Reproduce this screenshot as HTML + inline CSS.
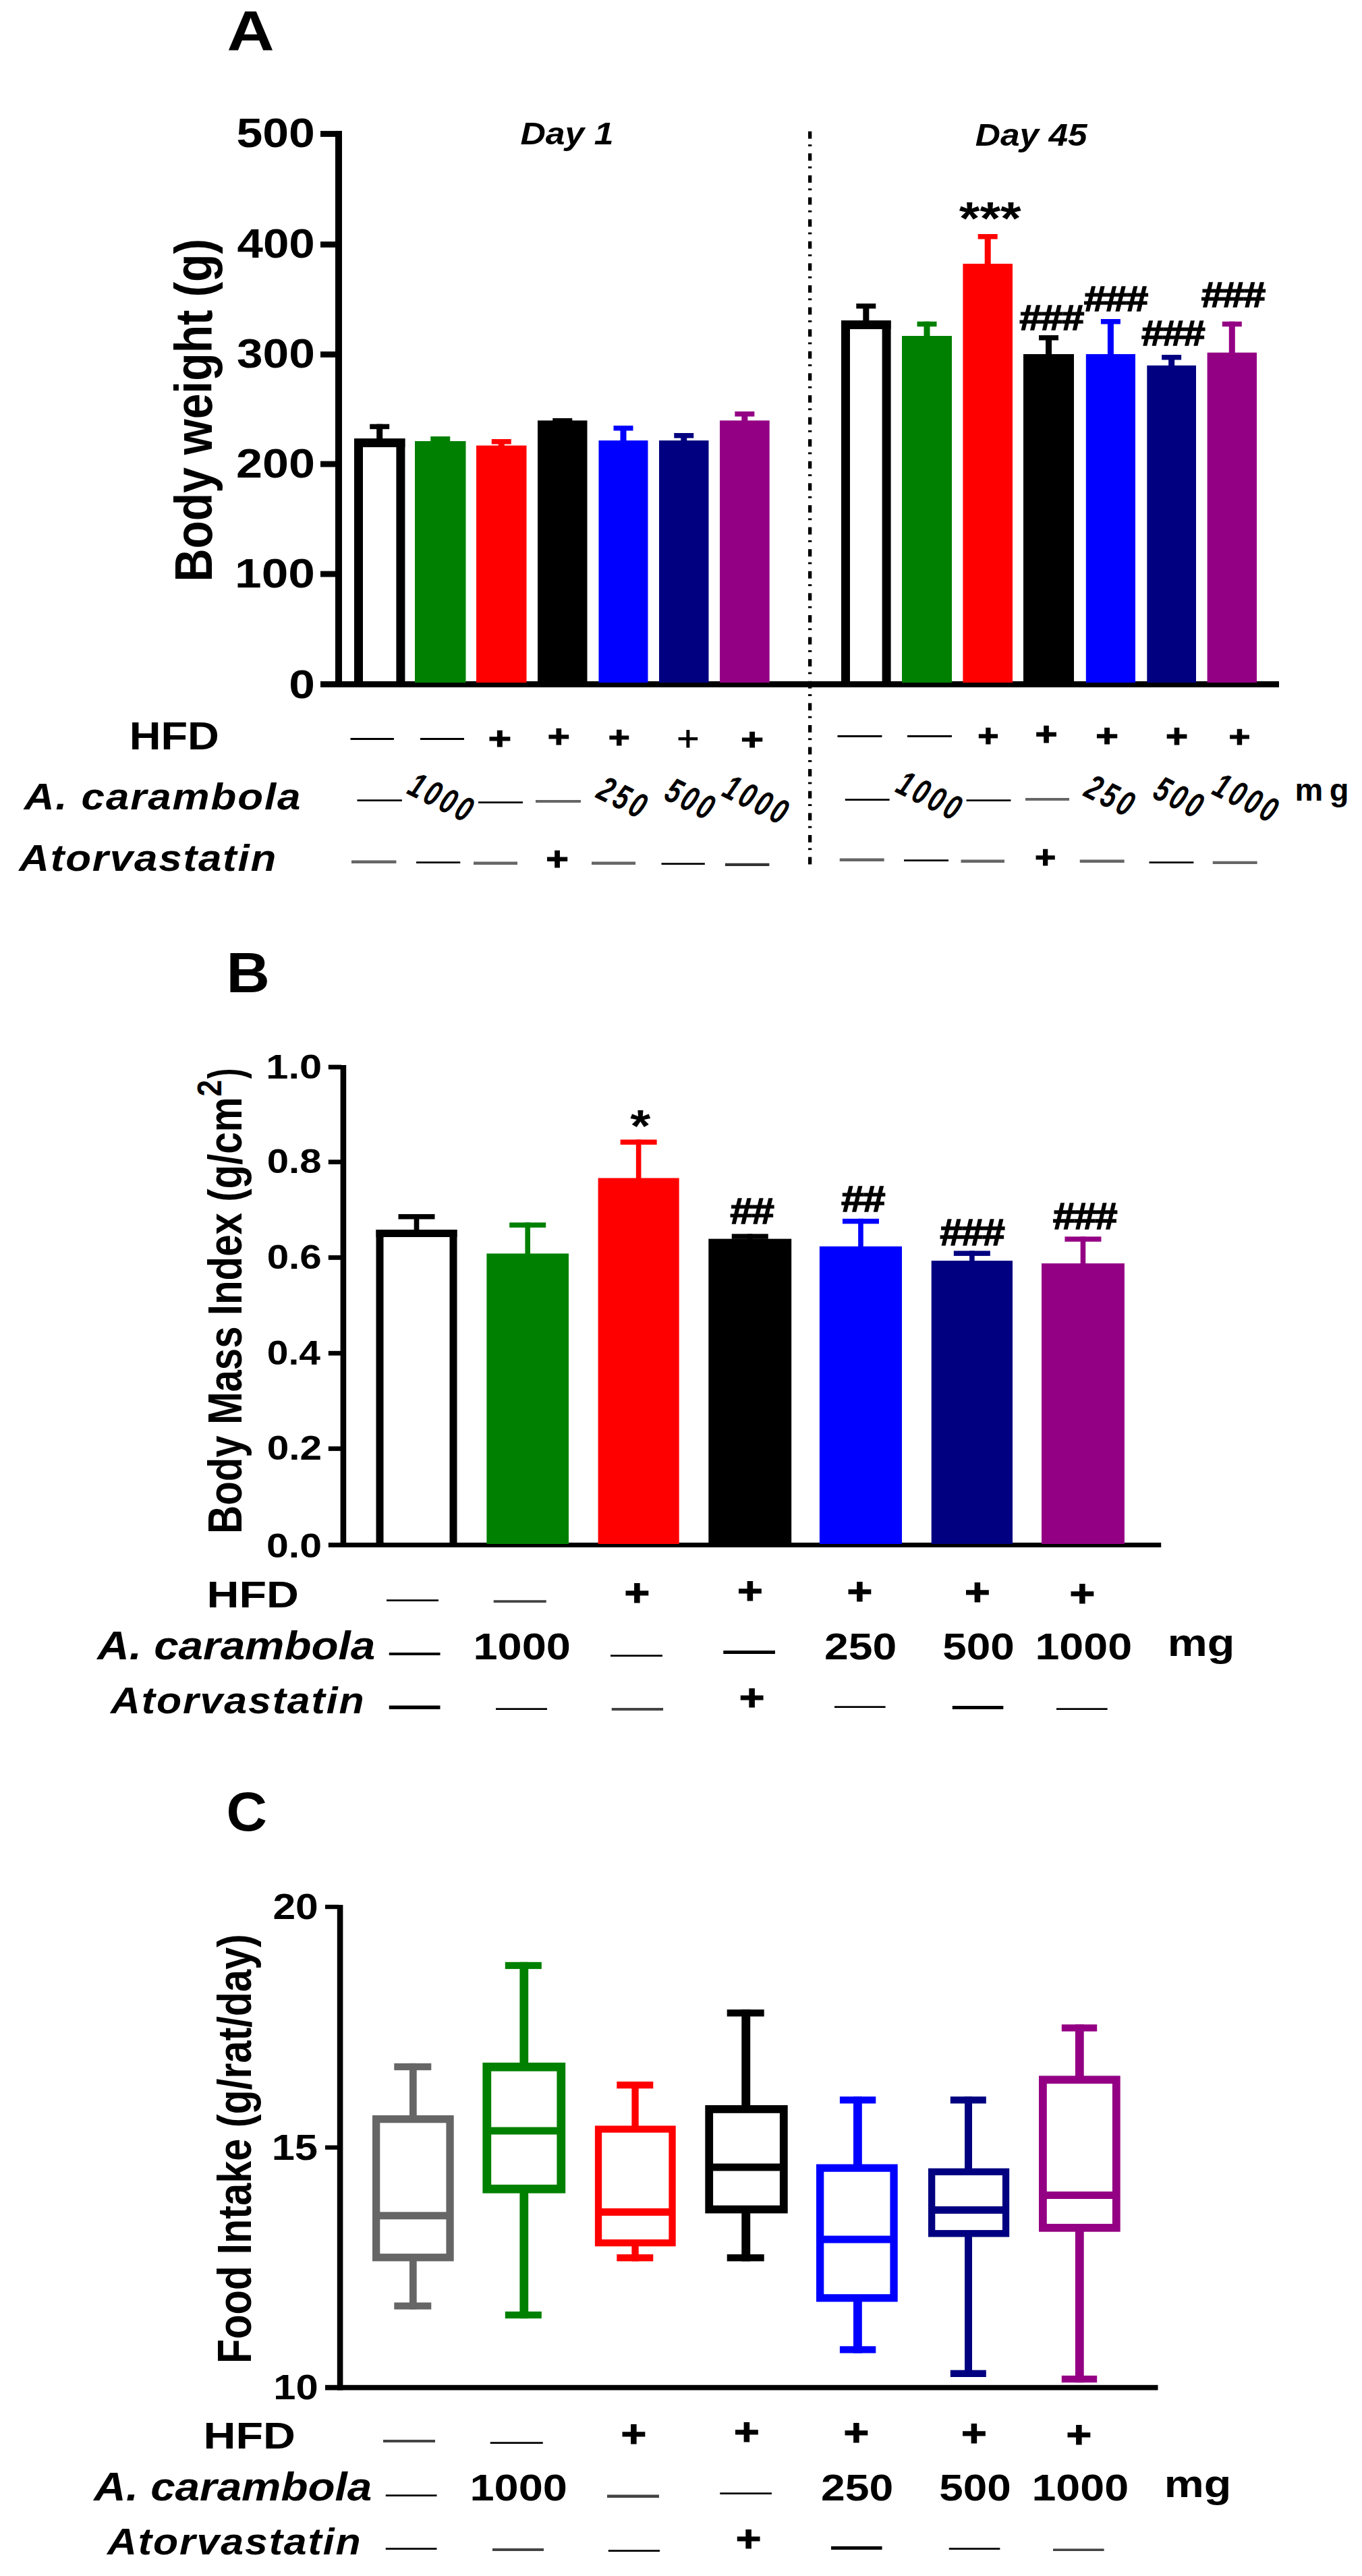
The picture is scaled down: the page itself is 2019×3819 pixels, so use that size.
<!DOCTYPE html>
<html><head><meta charset="utf-8"><title>Figure</title>
<style>
html,body{margin:0;padding:0;background:#fff}
svg{display:block}
text{font-family:"Liberation Sans",sans-serif;white-space:pre}
</style></head><body>
<svg width="2019" height="3819" viewBox="0 0 2019 3819">
<rect x="0" y="0" width="2019" height="3819" fill="#fff"/>
<text transform="translate(336.57 75.00) scale(1.1620 1)" font-size="83.49" font-weight="bold">A</text>
<rect x="497.00" y="194.00" width="10.00" height="825.00" fill="#000"/>
<rect x="475.00" y="1010.00" width="1421.00" height="9.00" fill="#000"/>
<rect x="475.00" y="194.10" width="25.00" height="8.80" fill="#000"/>
<text transform="translate(350.41 218.39) scale(1.1484 1)" font-size="60.78" font-weight="bold">500</text>
<rect x="475.00" y="358.10" width="25.00" height="8.80" fill="#000"/>
<text transform="translate(351.46 382.39) scale(1.1377 1)" font-size="60.78" font-weight="bold">400</text>
<rect x="475.00" y="521.10" width="25.00" height="8.80" fill="#000"/>
<text transform="translate(350.94 545.24) scale(1.1471 1)" font-size="60.56" font-weight="bold">300</text>
<rect x="475.00" y="683.60" width="25.00" height="8.80" fill="#000"/>
<text transform="translate(350.05 707.89) scale(1.1520 1)" font-size="60.78" font-weight="bold">200</text>
<rect x="475.00" y="846.60" width="25.00" height="8.80" fill="#000"/>
<text transform="translate(348.05 870.89) scale(1.1722 1)" font-size="60.78" font-weight="bold">100</text>
<text transform="translate(428.22 1034.90) scale(1.1565 1)" font-size="60.07" font-weight="bold">0</text>
<text transform="translate(314.00 862.58) rotate(-90) scale(0.6786 0.7855)" font-size="100" font-weight="bold">Body weight (g)</text>
<text transform="translate(771.40 213.60) scale(1.1000 1)" font-size="46.98" letter-spacing="0.04" font-weight="bold" font-style="italic">Day 1</text>
<text transform="translate(1445.80 216.20) scale(1.0948 1)" font-size="46.98" letter-spacing="0.00" font-weight="bold" font-style="italic">Day 45</text>
<rect x="1198.00" y="194.75" width="5.30" height="10.90" fill="#000"/>
<rect x="1198.00" y="214.15" width="5.30" height="2.80" fill="#000"/>
<rect x="1198.00" y="227.35" width="5.30" height="10.90" fill="#000"/>
<rect x="1198.00" y="246.75" width="5.30" height="2.80" fill="#000"/>
<rect x="1198.00" y="259.95" width="5.30" height="10.90" fill="#000"/>
<rect x="1198.00" y="279.35" width="5.30" height="2.80" fill="#000"/>
<rect x="1198.00" y="292.55" width="5.30" height="10.90" fill="#000"/>
<rect x="1198.00" y="311.95" width="5.30" height="2.80" fill="#000"/>
<rect x="1198.00" y="325.15" width="5.30" height="10.90" fill="#000"/>
<rect x="1198.00" y="344.55" width="5.30" height="2.80" fill="#000"/>
<rect x="1198.00" y="357.75" width="5.30" height="10.90" fill="#000"/>
<rect x="1198.00" y="377.15" width="5.30" height="2.80" fill="#000"/>
<rect x="1198.00" y="390.35" width="5.30" height="10.90" fill="#000"/>
<rect x="1198.00" y="409.75" width="5.30" height="2.80" fill="#000"/>
<rect x="1198.00" y="422.95" width="5.30" height="10.90" fill="#000"/>
<rect x="1198.00" y="442.35" width="5.30" height="2.80" fill="#000"/>
<rect x="1198.00" y="455.55" width="5.30" height="10.90" fill="#000"/>
<rect x="1198.00" y="474.95" width="5.30" height="2.80" fill="#000"/>
<rect x="1198.00" y="488.15" width="5.30" height="10.90" fill="#000"/>
<rect x="1198.00" y="507.55" width="5.30" height="2.80" fill="#000"/>
<rect x="1198.00" y="520.75" width="5.30" height="10.90" fill="#000"/>
<rect x="1198.00" y="540.15" width="5.30" height="2.80" fill="#000"/>
<rect x="1198.00" y="553.35" width="5.30" height="10.90" fill="#000"/>
<rect x="1198.00" y="572.75" width="5.30" height="2.80" fill="#000"/>
<rect x="1198.00" y="585.95" width="5.30" height="10.90" fill="#000"/>
<rect x="1198.00" y="605.35" width="5.30" height="2.80" fill="#000"/>
<rect x="1198.00" y="618.55" width="5.30" height="10.90" fill="#000"/>
<rect x="1198.00" y="637.95" width="5.30" height="2.80" fill="#000"/>
<rect x="1198.00" y="651.15" width="5.30" height="10.90" fill="#000"/>
<rect x="1198.00" y="670.55" width="5.30" height="2.80" fill="#000"/>
<rect x="1198.00" y="683.75" width="5.30" height="10.90" fill="#000"/>
<rect x="1198.00" y="703.15" width="5.30" height="2.80" fill="#000"/>
<rect x="1198.00" y="716.35" width="5.30" height="10.90" fill="#000"/>
<rect x="1198.00" y="735.75" width="5.30" height="2.80" fill="#000"/>
<rect x="1198.00" y="748.95" width="5.30" height="10.90" fill="#000"/>
<rect x="1198.00" y="768.35" width="5.30" height="2.80" fill="#000"/>
<rect x="1198.00" y="781.55" width="5.30" height="10.90" fill="#000"/>
<rect x="1198.00" y="800.95" width="5.30" height="2.80" fill="#000"/>
<rect x="1198.00" y="814.15" width="5.30" height="10.90" fill="#000"/>
<rect x="1198.00" y="833.55" width="5.30" height="2.80" fill="#000"/>
<rect x="1198.00" y="846.75" width="5.30" height="10.90" fill="#000"/>
<rect x="1198.00" y="866.15" width="5.30" height="2.80" fill="#000"/>
<rect x="1198.00" y="879.35" width="5.30" height="10.90" fill="#000"/>
<rect x="1198.00" y="898.75" width="5.30" height="2.80" fill="#000"/>
<rect x="1198.00" y="911.95" width="5.30" height="10.90" fill="#000"/>
<rect x="1198.00" y="931.35" width="5.30" height="2.80" fill="#000"/>
<rect x="1198.00" y="944.55" width="5.30" height="10.90" fill="#000"/>
<rect x="1198.00" y="963.95" width="5.30" height="2.80" fill="#000"/>
<rect x="1198.00" y="977.15" width="5.30" height="10.90" fill="#000"/>
<rect x="1198.00" y="996.55" width="5.30" height="2.80" fill="#000"/>
<rect x="1198.00" y="1009.75" width="5.30" height="10.90" fill="#000"/>
<rect x="1198.00" y="1029.15" width="5.30" height="2.80" fill="#000"/>
<rect x="1198.00" y="1042.35" width="5.30" height="10.90" fill="#000"/>
<rect x="1198.00" y="1061.75" width="5.30" height="2.80" fill="#000"/>
<rect x="1198.00" y="1074.95" width="5.30" height="10.90" fill="#000"/>
<rect x="1198.00" y="1094.35" width="5.30" height="2.80" fill="#000"/>
<rect x="1198.00" y="1107.55" width="5.30" height="10.90" fill="#000"/>
<rect x="1198.00" y="1126.95" width="5.30" height="2.80" fill="#000"/>
<rect x="1198.00" y="1140.15" width="5.30" height="10.90" fill="#000"/>
<rect x="1198.00" y="1159.55" width="5.30" height="2.80" fill="#000"/>
<rect x="1198.00" y="1172.75" width="5.30" height="10.90" fill="#000"/>
<rect x="1198.00" y="1192.15" width="5.30" height="2.80" fill="#000"/>
<rect x="1198.00" y="1205.35" width="5.30" height="10.90" fill="#000"/>
<rect x="1198.00" y="1224.75" width="5.30" height="2.80" fill="#000"/>
<rect x="1198.00" y="1237.95" width="5.30" height="10.90" fill="#000"/>
<rect x="1198.00" y="1257.35" width="5.30" height="2.80" fill="#000"/>
<rect x="1198.00" y="1270.55" width="5.30" height="10.90" fill="#000"/>
<rect x="525.00" y="650.00" width="13.00" height="362.00" fill="#000"/>
<rect x="587.40" y="650.00" width="13.00" height="362.00" fill="#000"/>
<rect x="525.00" y="650.00" width="75.40" height="13.00" fill="#000"/>
<rect x="548.20" y="628.70" width="29.00" height="7.50" fill="#000000"/>
<rect x="558.20" y="628.70" width="9.00" height="22.30" fill="#000000"/>
<rect x="615.00" y="654.00" width="75.50" height="358.00" fill="#008000"/>
<rect x="638.25" y="647.00" width="29.00" height="7.50" fill="#008000"/>
<rect x="648.25" y="647.00" width="9.00" height="8.00" fill="#008000"/>
<rect x="706.00" y="660.50" width="74.50" height="351.50" fill="#ff0000"/>
<rect x="728.75" y="651.00" width="29.00" height="7.50" fill="#ff0000"/>
<rect x="738.75" y="651.00" width="9.00" height="10.50" fill="#ff0000"/>
<rect x="797.00" y="623.40" width="73.50" height="388.60" fill="#000000"/>
<rect x="819.25" y="620.00" width="29.00" height="7.50" fill="#000000"/>
<rect x="829.25" y="620.00" width="9.00" height="4.40" fill="#000000"/>
<rect x="887.50" y="653.00" width="73.00" height="359.00" fill="#0000ff"/>
<rect x="909.50" y="631.00" width="29.00" height="7.50" fill="#0000ff"/>
<rect x="919.50" y="631.00" width="9.00" height="23.00" fill="#0000ff"/>
<rect x="977.00" y="653.00" width="73.50" height="359.00" fill="#000080"/>
<rect x="999.25" y="642.00" width="29.00" height="7.50" fill="#000080"/>
<rect x="1009.25" y="642.00" width="9.00" height="12.00" fill="#000080"/>
<rect x="1067.00" y="623.40" width="73.70" height="388.60" fill="#940084"/>
<rect x="1089.35" y="610.00" width="29.00" height="7.50" fill="#940084"/>
<rect x="1099.35" y="610.00" width="9.00" height="14.40" fill="#940084"/>
<rect x="1247.00" y="475.00" width="13.00" height="537.00" fill="#000"/>
<rect x="1307.60" y="475.00" width="13.00" height="537.00" fill="#000"/>
<rect x="1247.00" y="475.00" width="73.60" height="13.00" fill="#000"/>
<rect x="1269.30" y="450.00" width="29.00" height="7.50" fill="#000000"/>
<rect x="1279.30" y="450.00" width="9.00" height="26.00" fill="#000000"/>
<rect x="1337.00" y="498.00" width="74.00" height="514.00" fill="#008000"/>
<rect x="1359.50" y="476.70" width="29.00" height="7.50" fill="#008000"/>
<rect x="1369.50" y="476.70" width="9.00" height="22.30" fill="#008000"/>
<rect x="1427.40" y="391.00" width="73.60" height="621.00" fill="#ff0000"/>
<rect x="1449.70" y="347.00" width="29.00" height="7.50" fill="#ff0000"/>
<rect x="1459.70" y="347.00" width="9.00" height="45.00" fill="#ff0000"/>
<rect x="1517.00" y="525.00" width="75.00" height="487.00" fill="#000000"/>
<rect x="1540.00" y="497.00" width="29.00" height="7.50" fill="#000000"/>
<rect x="1550.00" y="497.00" width="9.00" height="29.00" fill="#000000"/>
<rect x="1609.80" y="525.00" width="73.20" height="487.00" fill="#0000ff"/>
<rect x="1631.90" y="473.00" width="29.00" height="7.50" fill="#0000ff"/>
<rect x="1641.90" y="473.00" width="9.00" height="53.00" fill="#0000ff"/>
<rect x="1700.30" y="541.80" width="72.70" height="470.20" fill="#000080"/>
<rect x="1722.15" y="526.00" width="29.00" height="7.50" fill="#000080"/>
<rect x="1732.15" y="526.00" width="9.00" height="16.80" fill="#000080"/>
<rect x="1789.60" y="522.70" width="73.40" height="489.30" fill="#940084"/>
<rect x="1811.80" y="476.70" width="29.00" height="7.50" fill="#940084"/>
<rect x="1821.80" y="476.70" width="9.00" height="47.00" fill="#940084"/>
<text transform="translate(1421.80 347.06) scale(1.1510 1)" font-size="68.46" font-weight="bold">***</text>
<text stroke="#000" stroke-width="1.4" transform="translate(1511.35 488.80) scale(1.1462 1)" font-size="52.35" letter-spacing="-1.83" font-weight="bold">###</text>
<text stroke="#000" stroke-width="1.4" transform="translate(1606.65 461.30) scale(1.1555 1)" font-size="51.76" letter-spacing="-1.81" font-weight="bold">###</text>
<text stroke="#000" stroke-width="1.4" transform="translate(1691.96 512.30) scale(1.1340 1)" font-size="52.35" letter-spacing="-1.83" font-weight="bold">###</text>
<text stroke="#000" stroke-width="1.4" transform="translate(1780.65 455.30) scale(1.1425 1)" font-size="52.35" letter-spacing="-1.83" font-weight="bold">###</text>
<text transform="translate(191.63 1111.40) scale(1.1304 1)" font-size="57.31" font-weight="bold">HFD</text>
<text transform="translate(35.74 1200.20) scale(1.1000 1)" font-size="56.29" letter-spacing="1.73" font-weight="bold" font-style="italic">A. carambola</text>
<text transform="translate(28.24 1290.70) scale(1.1000 1)" font-size="56.29" letter-spacing="1.65" font-weight="bold" font-style="italic">Atorvastatin</text>
<text transform="translate(519.50 1107.28) scale(1 0.6891)" font-size="64.50" font-weight="normal">—</text>
<text transform="translate(623.00 1107.28) scale(1 0.6838)" font-size="65.00" font-weight="normal">—</text>
<text transform="translate(1241.60 1103.28) scale(1 0.6744)" font-size="65.90" font-weight="normal">—</text>
<text transform="translate(1345.00 1103.28) scale(1 0.6734)" font-size="66.00" font-weight="normal">—</text>
<text stroke="#000" stroke-width="1.2" transform="translate(723.86 1110.65) scale(1.2496 1)" font-size="46.90" font-weight="bold">+</text>
<text stroke="#000" stroke-width="1.2" transform="translate(811.64 1108.15) scale(1.2069 1)" font-size="46.90" font-weight="bold">+</text>
<text stroke="#000" stroke-width="1.2" transform="translate(901.67 1108.99) scale(1.2198 1)" font-size="44.93" font-weight="bold">+</text>
<text stroke="#000" stroke-width="1.2" transform="translate(1098.15 1111.99) scale(1.2821 1)" font-size="44.93" font-weight="bold">+</text>
<text stroke="#000" stroke-width="1.2" transform="translate(1449.32 1106.65) scale(1.1429 1)" font-size="46.90" font-weight="bold">+</text>
<text stroke="#000" stroke-width="1.2" transform="translate(1534.44 1105.31) scale(1.1582 1)" font-size="48.87" font-weight="bold">+</text>
<text stroke="#000" stroke-width="1.2" transform="translate(1624.15 1106.65) scale(1.2282 1)" font-size="46.90" font-weight="bold">+</text>
<text stroke="#000" stroke-width="1.2" transform="translate(1727.94 1108.31) scale(1.1582 1)" font-size="48.87" font-weight="bold">+</text>
<text stroke="#000" stroke-width="1.2" transform="translate(1821.53 1108.49) scale(1.2153 1)" font-size="44.93" font-weight="bold">+</text>
<text stroke="#000" stroke-width="0.8" transform="translate(1003.29 1113.14) scale(1.0889 1)" font-size="52.45" font-weight="normal">+</text>
<text transform="translate(529.60 1196.53) scale(1 0.6247)" font-size="66.40" font-weight="normal" fill="#000000">—</text>
<text transform="translate(709.00 1199.53) scale(1 0.6285)" font-size="66.00" font-weight="normal" fill="#000000">—</text>
<text transform="translate(794.00 1203.34) scale(1 0.8845)" font-size="67.00" font-weight="normal" fill="#666666">—</text>
<text transform="translate(1252.70 1195.53) scale(1 0.6295)" font-size="65.90" font-weight="normal" fill="#000000">—</text>
<text transform="translate(1432.60 1197.03) scale(1 0.6295)" font-size="65.90" font-weight="normal" fill="#000000">—</text>
<text transform="translate(1520.00 1200.04) scale(1 0.9117)" font-size="65.00" font-weight="normal" fill="#666666">—</text>
<text transform="translate(601.19 1175.82) rotate(26.50) scale(0.720 1)" font-size="52.50" letter-spacing="6.8" font-weight="bold" font-style="italic">1000</text>
<text transform="translate(881.87 1181.78) rotate(26.50) scale(0.720 1)" font-size="52.50" letter-spacing="6.8" font-weight="bold" font-style="italic">250</text>
<text transform="translate(982.15 1184.07) rotate(26.50) scale(0.720 1)" font-size="52.50" letter-spacing="6.8" font-weight="bold" font-style="italic">500</text>
<text transform="translate(1068.09 1179.27) rotate(26.50) scale(0.720 1)" font-size="52.50" letter-spacing="6.8" font-weight="bold" font-style="italic">1000</text>
<text transform="translate(1325.19 1173.37) rotate(26.50) scale(0.720 1)" font-size="52.50" letter-spacing="6.8" font-weight="bold" font-style="italic">1000</text>
<text transform="translate(1604.62 1179.18) rotate(26.50) scale(0.720 1)" font-size="52.50" letter-spacing="6.8" font-weight="bold" font-style="italic">250</text>
<text transform="translate(1706.50 1181.72) rotate(26.50) scale(0.720 1)" font-size="52.50" letter-spacing="6.8" font-weight="bold" font-style="italic">500</text>
<text transform="translate(1794.19 1176.57) rotate(26.50) scale(0.720 1)" font-size="52.50" letter-spacing="6.8" font-weight="bold" font-style="italic">1000</text>
<text x="1919.5" y="1186.6" font-size="47" letter-spacing="9.5" font-weight="bold">mg</text>
<text transform="translate(521.00 1294.99) scale(1 1.0263)" font-size="66.40" font-weight="normal" fill="#666666">—</text>
<text transform="translate(617.00 1288.83) scale(1 0.6352)" font-size="65.30" font-weight="normal" fill="#000000">—</text>
<text transform="translate(702.00 1296.99) scale(1 1.0484)" font-size="65.00" font-weight="normal" fill="#666666">—</text>
<text transform="translate(877.00 1296.99) scale(1 1.0484)" font-size="65.00" font-weight="normal" fill="#666666">—</text>
<text transform="translate(980.60 1290.83) scale(1 0.6441)" font-size="64.40" font-weight="normal" fill="#000000">—</text>
<text transform="translate(1075.00 1297.79) scale(1 0.9514)" font-size="65.40" font-weight="normal" fill="#333">—</text>
<text transform="translate(1244.70 1291.79) scale(1 1.0341)" font-size="65.90" font-weight="normal" fill="#666666">—</text>
<text transform="translate(1340.00 1286.03) scale(1 0.6285)" font-size="66.00" font-weight="normal" fill="#000000">—</text>
<text transform="translate(1424.50 1294.29) scale(1 1.0566)" font-size="64.50" font-weight="normal" fill="#666666">—</text>
<text transform="translate(1600.70 1294.29) scale(1 1.0341)" font-size="65.90" font-weight="normal" fill="#666666">—</text>
<text transform="translate(1703.60 1288.53) scale(1 0.6295)" font-size="65.90" font-weight="normal" fill="#000000">—</text>
<text transform="translate(1797.80 1294.79) scale(1 0.9442)" font-size="65.90" font-weight="normal" fill="#666666">—</text>
<text stroke="#000" stroke-width="1.2" transform="translate(809.15 1290.31) scale(1.1787 1)" font-size="48.87" font-weight="bold">+</text>
<text stroke="#000" stroke-width="1.2" transform="translate(1533.92 1286.65) scale(1.1429 1)" font-size="46.90" font-weight="bold">+</text>
<text transform="translate(335.58 1471.00) scale(1.0700 1)" font-size="83.35" font-weight="bold">B</text>
<rect x="504.60" y="1579.00" width="8.60" height="715.00" fill="#000"/>
<rect x="486.80" y="2287.00" width="1234.40" height="7.00" fill="#000"/>
<rect x="486.80" y="1578.60" width="19.20" height="6.80" fill="#000"/>
<text transform="translate(394.28 1598.69) scale(1.1773 1)" font-size="50.60" font-weight="bold">1.0</text>
<rect x="486.80" y="1719.30" width="19.20" height="6.80" fill="#000"/>
<text transform="translate(395.68 1739.39) scale(1.1483 1)" font-size="50.60" font-weight="bold">0.8</text>
<rect x="486.80" y="1861.00" width="19.20" height="6.80" fill="#000"/>
<text transform="translate(395.67 1881.09) scale(1.1527 1)" font-size="50.60" font-weight="bold">0.6</text>
<rect x="486.80" y="2002.80" width="19.20" height="6.80" fill="#000"/>
<text transform="translate(395.72 2022.89) scale(1.1270 1)" font-size="50.60" font-weight="bold">0.4</text>
<rect x="486.80" y="2144.30" width="19.20" height="6.80" fill="#000"/>
<text transform="translate(395.66 2164.39) scale(1.1571 1)" font-size="50.60" font-weight="bold">0.2</text>
<text transform="translate(395.04 2308.79) scale(1.1661 1)" font-size="50.60" font-weight="bold">0.0</text>
<text transform="translate(357.80 2273.93) rotate(-90) scale(0.5826 0.6982)" font-size="100" font-weight="bold">Body Mass Index (g/cm</text>
<text transform="translate(328.00 1625.45) rotate(-90) scale(0.4417 0.5047)" font-size="100" font-weight="bold">2</text>
<text transform="translate(357.80 1599.32) rotate(-90) scale(0.4714 0.6982)" font-size="100" font-weight="bold">)</text>
<rect x="557.50" y="1823.00" width="11.00" height="466.00" fill="#000"/>
<rect x="666.50" y="1823.00" width="11.00" height="466.00" fill="#000"/>
<rect x="557.50" y="1823.00" width="120.00" height="11.00" fill="#000"/>
<rect x="590.50" y="1800.00" width="54.00" height="7.50" fill="#000000"/>
<rect x="613.70" y="1800.00" width="7.60" height="24.00" fill="#000000"/>
<rect x="721.40" y="1858.40" width="121.60" height="430.60" fill="#008000"/>
<rect x="755.20" y="1812.40" width="54.00" height="7.50" fill="#008000"/>
<rect x="778.40" y="1812.40" width="7.60" height="47.00" fill="#008000"/>
<rect x="886.60" y="1746.50" width="120.10" height="542.50" fill="#ff0000"/>
<rect x="919.65" y="1689.50" width="54.00" height="7.50" fill="#ff0000"/>
<rect x="942.85" y="1689.50" width="7.60" height="58.00" fill="#ff0000"/>
<rect x="1050.30" y="1836.60" width="122.90" height="452.40" fill="#000000"/>
<rect x="1084.75" y="1829.30" width="54.00" height="7.50" fill="#000000"/>
<rect x="1107.95" y="1829.30" width="7.60" height="8.30" fill="#000000"/>
<rect x="1214.90" y="1847.80" width="122.10" height="441.20" fill="#0000ff"/>
<rect x="1248.95" y="1806.80" width="54.00" height="7.50" fill="#0000ff"/>
<rect x="1272.15" y="1806.80" width="7.60" height="42.00" fill="#0000ff"/>
<rect x="1380.70" y="1869.00" width="120.30" height="420.00" fill="#000080"/>
<rect x="1413.85" y="1854.40" width="54.00" height="7.50" fill="#000080"/>
<rect x="1437.05" y="1854.40" width="7.60" height="15.60" fill="#000080"/>
<rect x="1544.00" y="1873.00" width="122.90" height="416.00" fill="#940084"/>
<rect x="1578.45" y="1833.30" width="54.00" height="7.50" fill="#940084"/>
<rect x="1601.65" y="1833.30" width="7.60" height="40.70" fill="#940084"/>
<text transform="translate(934.31 1691.72) scale(1.1729 1)" font-size="65.77" font-weight="bold">*</text>
<text stroke="#000" stroke-width="1.4" transform="translate(1082.23 1814.30) scale(1.1260 1)" font-size="54.12" letter-spacing="-1.89" font-weight="bold">##</text>
<text stroke="#000" stroke-width="1.4" transform="translate(1247.04 1796.00) scale(1.1273 1)" font-size="53.97" letter-spacing="-1.89" font-weight="bold">##</text>
<text stroke="#000" stroke-width="1.4" transform="translate(1393.34 1846.30) scale(1.0790 1)" font-size="56.03" letter-spacing="-1.96" font-weight="bold">###</text>
<text stroke="#000" stroke-width="1.4" transform="translate(1560.65 1821.70) scale(1.0749 1)" font-size="55.88" letter-spacing="-1.96" font-weight="bold">###</text>
<text transform="translate(306.52 2382.50) scale(1.1844 1)" font-size="56.00" font-weight="bold">HFD</text>
<text transform="translate(144.31 2459.80) scale(1.0977 1)" font-size="59.78" letter-spacing="0.00" font-weight="bold" font-style="italic">A. carambola</text>
<text transform="translate(164.02 2539.80) scale(1.1000 1)" font-size="55.27" letter-spacing="1.74" font-weight="bold" font-style="italic">Atorvastatin</text>
<text transform="translate(573.00 2382.83) scale(1 0.5387)" font-size="77.00" font-weight="normal">—</text>
<text transform="translate(731.80 2388.29) scale(1 0.7217)" font-size="78.00" font-weight="normal" fill="#444">—</text>
<text stroke="#000" stroke-width="1.2" transform="translate(925.50 2380.18) scale(1.1793 1)" font-size="54.78" font-weight="bold">+</text>
<text stroke="#000" stroke-width="1.2" transform="translate(1092.90 2376.88) scale(1.1793 1)" font-size="54.78" font-weight="bold">+</text>
<text stroke="#000" stroke-width="1.2" transform="translate(1255.50 2377.78) scale(1.1793 1)" font-size="54.78" font-weight="bold">+</text>
<text stroke="#000" stroke-width="1.2" transform="translate(1430.10 2379.28) scale(1.1793 1)" font-size="54.78" font-weight="bold">+</text>
<text stroke="#000" stroke-width="1.2" transform="translate(1585.40 2380.88) scale(1.1793 1)" font-size="54.78" font-weight="bold">+</text>
<text transform="translate(576.70 2467.04) scale(1 0.7818)" font-size="75.80" font-weight="normal">—</text>
<text transform="translate(701.44 2460.05) scale(1.1753 1)" font-size="55.27" font-weight="bold">1000</text>
<text transform="translate(905.00 2464.73) scale(1 0.5387)" font-size="77.00" font-weight="normal">—</text>
<text transform="translate(1072.30 2467.80) scale(1 0.9658)" font-size="76.70" font-weight="normal">—</text>
<text transform="translate(1221.95 2460.05) scale(1.1624 1)" font-size="55.27" font-weight="bold">250</text>
<text transform="translate(1397.28 2460.05) scale(1.1553 1)" font-size="55.27" font-weight="bold">500</text>
<text transform="translate(1534.46 2460.05) scale(1.1685 1)" font-size="55.27" font-weight="bold">1000</text>
<text transform="translate(1730.68 2455.32) scale(1.1585 1)" font-size="57.33" font-weight="bold">mg</text>
<text transform="translate(576.70 2552.48) scale(1 1.0750)" font-size="75.80" font-weight="normal">—</text>
<text transform="translate(735.00 2543.53) scale(1 0.5458)" font-size="76.00" font-weight="normal">—</text>
<text transform="translate(906.70 2549.04) scale(1 0.7767)" font-size="76.30" font-weight="normal" fill="#444">—</text>
<text stroke="#000" stroke-width="1.2" transform="translate(1095.70 2534.55) scale(1.2009 1)" font-size="53.79" font-weight="bold">+</text>
<text transform="translate(1237.00 2540.93) scale(1 0.5487)" font-size="75.60" font-weight="normal">—</text>
<text transform="translate(1411.80 2550.30) scale(1 0.9798)" font-size="75.60" font-weight="normal">—</text>
<text transform="translate(1566.00 2543.53) scale(1 0.5487)" font-size="75.60" font-weight="normal">—</text>
<text transform="translate(335.45 2713.78) scale(1.0171 1)" font-size="82.26" font-weight="bold">C</text>
<rect x="499.80" y="2824.00" width="8.60" height="719.50" fill="#000"/>
<rect x="482.00" y="3535.80" width="1234.50" height="7.70" fill="#000"/>
<rect x="482.00" y="2823.80" width="20.00" height="6.40" fill="#000"/>
<text transform="translate(404.38 2845.17) scale(1.1460 1)" font-size="52.86" font-weight="bold">20</text>
<rect x="482.00" y="3180.50" width="20.00" height="6.40" fill="#000"/>
<text transform="translate(402.66 3201.86) scale(1.1464 1)" font-size="53.62" font-weight="bold">15</text>
<text transform="translate(405.27 3557.48) scale(1.1582 1)" font-size="51.59" font-weight="bold">10</text>
<text transform="translate(371.60 3504.01) rotate(-90) scale(0.5941 0.6996)" font-size="100" font-weight="bold">Food Intake (g/rat/day)</text>
<rect x="607.00" y="3058.90" width="10.70" height="364.90" fill="#666666"/>
<rect x="584.30" y="3058.90" width="55.00" height="10.30" fill="#666666"/>
<rect x="584.30" y="3413.50" width="55.00" height="10.30" fill="#666666"/>
<rect x="557.65" y="3141.65" width="109.40" height="205.10" fill="#fff" stroke="#666666" stroke-width="11.30"/>
<rect x="553.00" y="3279.30" width="118.70" height="11.00" fill="#666666"/>
<rect x="770.40" y="2908.80" width="12.80" height="528.40" fill="#008000"/>
<rect x="748.80" y="2908.80" width="54.00" height="10.30" fill="#008000"/>
<rect x="748.80" y="3426.90" width="54.00" height="10.30" fill="#008000"/>
<rect x="721.80" y="3064.30" width="110.00" height="180.90" fill="#fff" stroke="#008000" stroke-width="12.80"/>
<rect x="716.40" y="3153.50" width="120.80" height="11.00" fill="#008000"/>
<rect x="936.40" y="3086.00" width="10.30" height="266.40" fill="#ff0000"/>
<rect x="914.30" y="3086.00" width="54.00" height="10.30" fill="#ff0000"/>
<rect x="914.30" y="3342.10" width="54.00" height="10.30" fill="#ff0000"/>
<rect x="887.05" y="3156.55" width="109.50" height="168.60" fill="#fff" stroke="#ff0000" stroke-width="10.30"/>
<rect x="882.90" y="3273.90" width="117.80" height="11.00" fill="#ff0000"/>
<rect x="1099.30" y="2979.20" width="12.90" height="373.20" fill="#000000"/>
<rect x="1077.70" y="2979.20" width="55.00" height="10.30" fill="#000000"/>
<rect x="1077.70" y="3342.10" width="55.00" height="10.30" fill="#000000"/>
<rect x="1051.20" y="3126.90" width="110.60" height="148.60" fill="#fff" stroke="#000000" stroke-width="11.80"/>
<rect x="1046.30" y="3207.50" width="120.40" height="11.00" fill="#000000"/>
<rect x="1265.00" y="3108.20" width="12.80" height="380.40" fill="#0000ff"/>
<rect x="1244.90" y="3108.20" width="53.40" height="10.30" fill="#0000ff"/>
<rect x="1244.90" y="3478.30" width="53.40" height="10.30" fill="#0000ff"/>
<rect x="1215.65" y="3214.15" width="109.40" height="192.70" fill="#fff" stroke="#0000ff" stroke-width="11.30"/>
<rect x="1211.00" y="3314.50" width="118.70" height="11.00" fill="#0000ff"/>
<rect x="1430.00" y="3108.20" width="11.00" height="415.80" fill="#000080"/>
<rect x="1408.80" y="3108.20" width="53.00" height="10.30" fill="#000080"/>
<rect x="1408.80" y="3513.70" width="53.00" height="10.30" fill="#000080"/>
<rect x="1381.15" y="3219.75" width="109.90" height="91.50" fill="#fff" stroke="#000080" stroke-width="10.30"/>
<rect x="1377.00" y="3270.90" width="118.20" height="11.00" fill="#000080"/>
<rect x="1593.90" y="3001.30" width="12.80" height="530.90" fill="#940084"/>
<rect x="1573.80" y="3001.30" width="52.40" height="10.30" fill="#940084"/>
<rect x="1573.80" y="3521.90" width="52.40" height="10.30" fill="#940084"/>
<rect x="1545.90" y="3083.30" width="108.90" height="219.50" fill="#fff" stroke="#940084" stroke-width="11.80"/>
<rect x="1541.00" y="3249.00" width="118.70" height="11.00" fill="#940084"/>
<text transform="translate(301.52 3629.50) scale(1.1844 1)" font-size="56.00" font-weight="bold">HFD</text>
<text transform="translate(139.31 3706.80) scale(1.0977 1)" font-size="59.78" letter-spacing="0.00" font-weight="bold" font-style="italic">A. carambola</text>
<text transform="translate(159.02 3786.80) scale(1.1000 1)" font-size="55.27" letter-spacing="1.74" font-weight="bold" font-style="italic">Atorvastatin</text>
<text transform="translate(568.00 3634.34) scale(1 0.7696)" font-size="77.00" font-weight="normal" fill="#444">—</text>
<text transform="translate(726.80 3631.53) scale(1 0.5318)" font-size="78.00" font-weight="normal">—</text>
<text stroke="#000" stroke-width="1.2" transform="translate(920.50 3627.18) scale(1.1793 1)" font-size="54.78" font-weight="bold">+</text>
<text stroke="#000" stroke-width="1.2" transform="translate(1087.90 3623.88) scale(1.1793 1)" font-size="54.78" font-weight="bold">+</text>
<text stroke="#000" stroke-width="1.2" transform="translate(1250.50 3624.78) scale(1.1793 1)" font-size="54.78" font-weight="bold">+</text>
<text stroke="#000" stroke-width="1.2" transform="translate(1425.10 3626.28) scale(1.1793 1)" font-size="54.78" font-weight="bold">+</text>
<text stroke="#000" stroke-width="1.2" transform="translate(1580.40 3627.88) scale(1.1793 1)" font-size="54.78" font-weight="bold">+</text>
<text transform="translate(571.70 3709.53) scale(1 0.5472)" font-size="75.80" font-weight="normal">—</text>
<text transform="translate(696.44 3707.05) scale(1.1753 1)" font-size="55.27" font-weight="bold">1000</text>
<text transform="translate(900.00 3718.12) scale(1 0.8658)" font-size="77.00" font-weight="normal" fill="#444">—</text>
<text transform="translate(1067.30 3706.53) scale(1 0.5408)" font-size="76.70" font-weight="normal">—</text>
<text transform="translate(1216.95 3707.05) scale(1.1624 1)" font-size="55.27" font-weight="bold">250</text>
<text transform="translate(1392.28 3707.05) scale(1.1553 1)" font-size="55.27" font-weight="bold">500</text>
<text transform="translate(1529.46 3707.05) scale(1.1685 1)" font-size="55.27" font-weight="bold">1000</text>
<text transform="translate(1725.68 3702.32) scale(1.1585 1)" font-size="57.33" font-weight="bold">mg</text>
<text transform="translate(571.70 3789.33) scale(1 0.5472)" font-size="75.80" font-weight="normal">—</text>
<text transform="translate(730.00 3795.04) scale(1 0.7797)" font-size="76.00" font-weight="normal" fill="#444">—</text>
<text transform="translate(901.70 3791.53) scale(1 0.5437)" font-size="76.30" font-weight="normal">—</text>
<text stroke="#000" stroke-width="1.2" transform="translate(1090.70 3781.55) scale(1.2009 1)" font-size="53.79" font-weight="bold">+</text>
<text transform="translate(1232.00 3796.20) scale(1 0.9798)" font-size="75.60" font-weight="normal">—</text>
<text transform="translate(1406.80 3789.03) scale(1 0.5487)" font-size="75.60" font-weight="normal">—</text>
<text transform="translate(1561.00 3793.53) scale(1 0.7055)" font-size="75.60" font-weight="normal" fill="#444">—</text>
</svg>
</body></html>
